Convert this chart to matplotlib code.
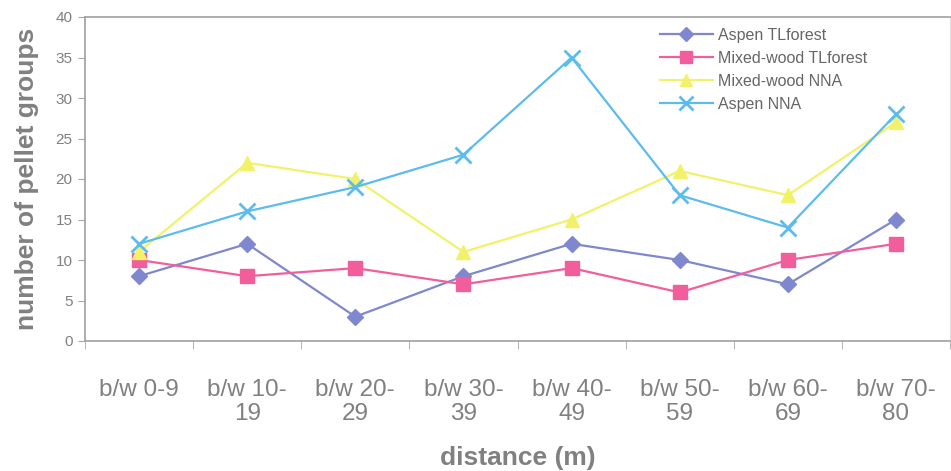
import matplotlib
matplotlib.use("Agg")
import matplotlib.pyplot as plt
import numpy as np

categories = ["b/w 0-9", "b/w 10-\n19", "b/w 20-\n29", "b/w 30-\n39",
              "b/w 40-\n49", "b/w 50-\n59", "b/w 60-\n69", "b/w 70-\n80"]
aspen_tl = [8, 12, 3, 8, 12, 10, 7, 15]
mixed_tl = [10, 8, 9, 7, 9, 6, 10, 12]
mixed_nna = [11, 22, 20, 11, 15, 21, 18, 27]
aspen_nna = [12, 16, 19, 23, 35, 18, 14, 28]

plt.rcParams['font.family'] = ['Liberation Sans', 'DejaVu Sans']
gray = '#808080'

fig = plt.figure(figsize=(9.51, 4.71), dpi=100)
ax = fig.add_axes([85/951, 1-341/471, (951-86)/951, (341-17)/471])

x = np.arange(len(categories))
ax.plot(x, aspen_tl, color='#7f88cf', lw=1.6, marker='D', ms=8,
        mfc='#7f88cf', mec='#7f88cf', label='Aspen TLforest')
ax.plot(x, mixed_tl, color='#f25e9c', lw=1.6, marker='s', ms=10,
        mfc='#f25e9c', mec='#f25e9c', label='Mixed-wood TLforest')
ax.plot(x, mixed_nna, color='#f2f26a', lw=1.6, marker='^', ms=10,
        mfc='#f2f26a', mec='#f2f26a', label='Mixed-wood NNA')
ax.plot(x, aspen_nna, color='#5cbcee', lw=1.6, marker='x', ms=11, mew=2,
        label='Aspen NNA')

ax.set_xlim(-0.5, len(categories) - 0.5)
ax.set_ylim(0, 40)
ax.set_yticks(np.arange(0, 41, 5))
ax.set_xticks(x)
ax.set_xticklabels(categories, fontsize=17.5, color=gray, linespacing=1.15)
ax.set_xticks(np.arange(-0.5, len(categories), 1), minor=True)
ax.tick_params(axis='x', which='major', length=0, pad=27)
ax.tick_params(axis='x', which='minor', length=6, color='#aaaaaa', direction='out')
ax.tick_params(axis='y', length=5, color='#aaaaaa', labelsize=11, labelcolor=gray, pad=4)

for side in ['left', 'bottom', 'top']:
    ax.spines[side].set_color('#a0a0a0')
    ax.spines[side].set_linewidth(1.2)
ax.spines['right'].set_color('#dddddd')

ax.set_ylabel('number of pellet groups', fontsize=19, fontweight='bold', color=gray, labelpad=12)
ax.set_xlabel('distance (m)', fontsize=19, fontweight='bold', color=gray, labelpad=15)

leg = ax.legend(loc='upper left', bbox_to_anchor=(660/951, 1-28/471),
                bbox_transform=fig.transFigure, frameon=False, fontsize=11.5,
                handlelength=3.3, handletextpad=0.35, labelspacing=0.5,
                borderpad=0, borderaxespad=0, markerscale=0.9)
for t in leg.get_texts():
    t.set_color('#666666')

fig.savefig('out.png', dpi=100)
